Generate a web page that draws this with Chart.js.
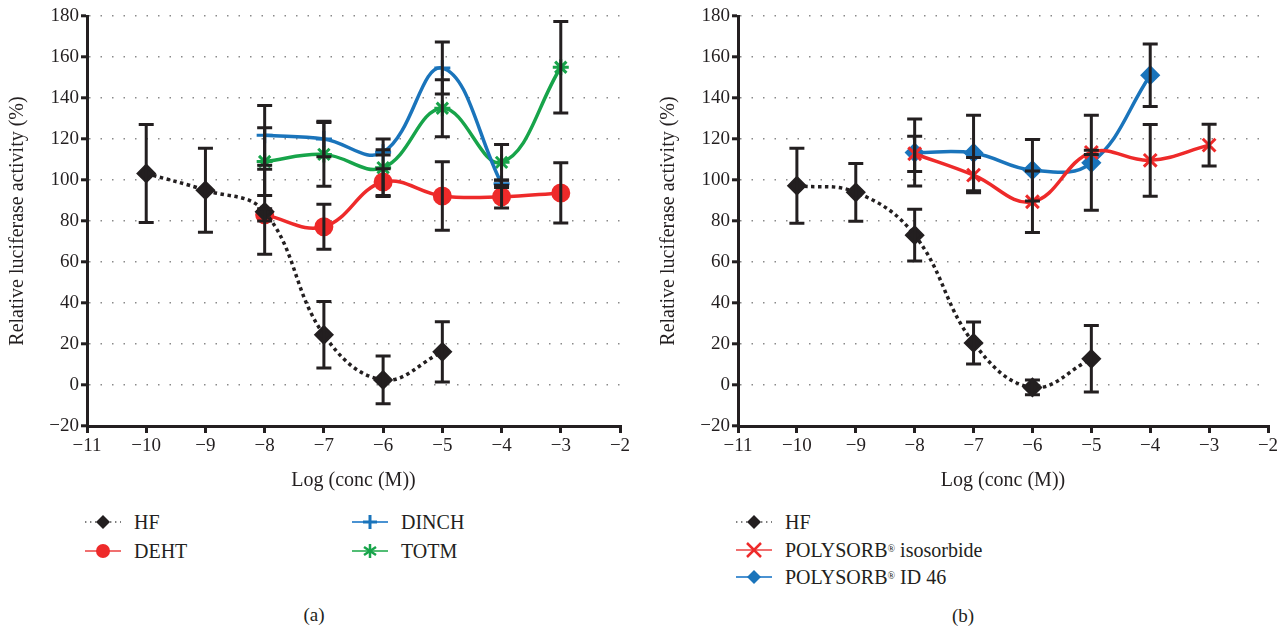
<!DOCTYPE html>
<html><head><meta charset="utf-8">
<script src="https://cdn.jsdelivr.net/npm/chart.js@4.4.0/dist/chart.umd.min.js"></script>
<style>
body{margin:0;background:#fff;width:1288px;height:633px;overflow:hidden;position:relative;font-family:"Liberation Serif",serif;color:#231f20}
.wrap{position:absolute;top:0;height:496px}
#wa{left:0;width:640px}
#wb{left:648px;width:640px}
.item{position:absolute;display:flex;align-items:center;white-space:nowrap;font-size:20px;height:24px;transform:translateY(-50%)}
.item svg{margin-right:13px}
.cap{position:absolute;font-size:19px;transform:translate(-50%,-50%)}
</style>
</head><body>
<div class="wrap" id="wa"><canvas id="ca"></canvas></div>
<div class="wrap" id="wb"><canvas id="cb"></canvas></div>

<div class="item" style="left:85px;top:522px"><svg width="36" height="18"><line x1="0" y1="9" x2="36" y2="9" stroke="#555" stroke-width="1.4" stroke-dasharray="1.4 3.6"/><polygon points="18,2 25,9 18,16 11,9" fill="#231f20"/></svg>HF</div>
<div class="item" style="left:85px;top:551px"><svg width="36" height="18"><line x1="0" y1="9" x2="36" y2="9" stroke="#f07070" stroke-width="2"/><circle cx="18" cy="9" r="7" fill="#ee2a2a"/></svg>DEHT</div>
<div class="item" style="left:352px;top:522px"><svg width="36" height="18"><line x1="0" y1="9" x2="36" y2="9" stroke="#4a92d2" stroke-width="2"/><line x1="18" y1="2" x2="18" y2="16" stroke="#1a74bb" stroke-width="3"/><line x1="11" y1="9" x2="25" y2="9" stroke="#1a74bb" stroke-width="3"/></svg>DINCH</div>
<div class="item" style="left:352px;top:551px"><svg width="36" height="18"><line x1="0" y1="9" x2="36" y2="9" stroke="#52bd74" stroke-width="2"/><g stroke="#17a44a" stroke-width="2.5"><line x1="18" y1="2" x2="18" y2="16"/><line x1="12" y1="5" x2="24" y2="13"/><line x1="12" y1="13" x2="24" y2="5"/></g></svg>TOTM</div>
<div class="cap" style="left:314px;top:615px">(a)</div>

<div class="item" style="left:736px;top:522px"><svg width="36" height="18"><line x1="0" y1="9" x2="36" y2="9" stroke="#555" stroke-width="1.4" stroke-dasharray="1.4 3.6"/><polygon points="18,2 25,9 18,16 11,9" fill="#231f20"/></svg>HF</div>
<div class="item" style="left:736px;top:550px"><svg width="36" height="18"><line x1="0" y1="9" x2="36" y2="9" stroke="#f07070" stroke-width="2"/><g stroke="#ee2a2a" stroke-width="2.5"><line x1="11" y1="2" x2="25" y2="16"/><line x1="11" y1="16" x2="25" y2="2"/></g></svg>POLYSORB<sup style="font-size:10px;position:relative;top:-2px">®</sup>&nbsp;isosorbide</div>
<div class="item" style="left:736px;top:577px"><svg width="36" height="18"><line x1="0" y1="9" x2="36" y2="9" stroke="#4a92d2" stroke-width="2"/><polygon points="18,2 25,9 18,16 11,9" fill="#1a74bb"/></svg>POLYSORB<sup style="font-size:10px;position:relative;top:-2px">®</sup>&nbsp;ID 46</div>
<div class="cap" style="left:963px;top:616px">(b)</div>

<script>
// ---------- Panel (a) data ----------
const xHF_A   = [-10, -9, -8, -7, -6, -5];
const hfA     = [103.2, 95, 84.5, 24.5, 2.5, 16.2];
const hfA_err = [23.9, 20.5, 20.7, 16.2, 11.6, 14.7];

const xDEHT   = [-8, -7, -6, -5, -4, -3];
const deht    = [83, 77.2, 99, 92.2, 91.8, 93.7];
const deht_err= [3, 11, 6.5, 16.7, 5.5, 14.7];

const xDINCH  = [-8, -7, -6, -5, -4];
const dinch   = [121.8, 120, 113.5, 154.6, 98.2];
const dinch_err=[14.6, 8.7, 1.3, 12.7, 1.8];

const xTOTM   = [-8, -7, -6, -5, -4, -3];
const totm    = [109, 112.5, 106, 135, 108.6, 155];
const totm_err= [16.5, 15.6, 14, 13.9, 8.7, 22.3];

// ---------- Panel (b) data ----------
const xHF_B   = [-10, -9, -8, -7, -6, -5];
const hfB     = [97.2, 94, 73.1, 20.5, -1.2, 12.8];
const hfB_err = [18.3, 14.1, 12.6, 10.2, 3.6, 16.2];

const xISO    = [-8, -7, -6, -5, -4, -3];
const iso     = [112.8, 102.4, 89.4, 113.5, 109.6, 117];
const iso_err = [8.6, 8.6, 15, 1, 17.5, 10.2];

const xID46   = [-8, -7, -6, -5, -4];
const id46    = [113.4, 113.2, 104.8, 108.4, 151.1];
const id46_err= [16.3, 18.4, 15, 23.2, 15.3];

// ---------- Tick values ----------
const xTicks = [-11, -10, -9, -8, -7, -6, -5, -4, -3, -2];
const yTicks = [-20, 0, 20, 40, 60, 80, 100, 120, 140, 160, 180];

const INK = '#231f20', RED = '#ee2a2a', BLUE = '#1a74bb', GREEN = '#17a44a';
const FONT = "'Liberation Serif', 'Times New Roman', serif";
const pts = (xs, ys) => xs.map((x, i) => ({x, y: ys[i]}));
const minus = v => String(v).replace('-', '\u2212');

const errorBars = {
  id: 'errorBars',
  afterDatasetsDraw(chart) {
    const {ctx, scales: {x, y}} = chart;
    ctx.save();
    ctx.strokeStyle = INK; ctx.lineWidth = 3; ctx.lineCap = 'butt';
    chart.data.datasets.forEach(ds => {
      if (!ds.errors) return;
      ds.data.forEach((p, j) => {
        const e = ds.errors[j];
        const px = x.getPixelForValue(p.x);
        const yt = y.getPixelForValue(p.y + e), yb = y.getPixelForValue(p.y - e);
        ctx.beginPath();
        ctx.moveTo(px, yt); ctx.lineTo(px, yb);
        ctx.moveTo(px - 7.5, yt); ctx.lineTo(px + 7.5, yt);
        ctx.moveTo(px - 7.5, yb); ctx.lineTo(px + 7.5, yb);
        ctx.stroke();
      });
    });
    ctx.restore();
  }
};

function series(label, xs, ys, errs, color, style, radius, extra) {
  return Object.assign({
    label, data: pts(xs, ys), errors: errs,
    borderColor: color, backgroundColor: color,
    pointBorderColor: color, pointBackgroundColor: color,
    pointStyle: style, pointRadius: radius, pointBorderWidth: 3,
    borderWidth: 3.5, tension: 0.4, fill: false
  }, extra || {});
}

function makeOptions(yAxisWidth, titlePad) {
  return {
    responsive: true, maintainAspectRatio: false, animation: false,
    layout: {padding: {top: 16, right: 20, left: 0, bottom: 0}},
    plugins: {legend: {display: false}, tooltip: {enabled: false}},
    scales: {
      x: {
        type: 'linear', min: -11, max: -2,
        afterBuildTicks: s => { s.ticks = xTicks.map(v => ({value: v})); },
        afterFit: s => { s.height = 70; },
        border: {display: true, color: INK, width: 3},
        grid: {display: true, drawOnChartArea: false, drawTicks: true, tickLength: 7, color: INK, lineWidth: 3},
        ticks: {color: INK, font: {family: FONT, size: 19}, padding: 2, autoSkip: false, maxRotation: 0,
                callback: v => minus(v)},
        title: {display: true, text: 'Log (conc (M))', color: INK, font: {family: FONT, size: 20}, padding: {top: 4, bottom: 3}}
      },
      y: {
        type: 'linear', min: -20, max: 180,
        afterBuildTicks: s => { s.ticks = yTicks.map(v => ({value: v})); },
        afterFit: s => { s.width = yAxisWidth; },
        border: {display: true, color: INK, width: 3, dash: [1.5, 10]},
        grid: {display: true, drawOnChartArea: true, drawTicks: true, tickLength: 6, color: '#8a8a8a', lineWidth: 1.6,
               tickColor: INK, tickWidth: 3, tickBorderDash: []},
        ticks: {color: INK, font: {family: FONT, size: 19}, padding: 2, autoSkip: false,
                callback: v => minus(v)},
        title: {display: true, text: 'Relative luciferase activity (%)', color: INK, font: {family: FONT, size: 20}, padding: {top: titlePad, bottom: 0}}
      }
    }
  };
}

new Chart(document.getElementById('ca'), {
  type: 'line',
  data: {datasets: [
    series('HF', xHF_A, hfA, hfA_err, INK, 'rectRot', 8, {borderDash: [3.5, 3.5]}),
    series('DEHT', xDEHT, deht, deht_err, RED, 'circle', 8),
    series('DINCH', xDINCH, dinch, dinch_err, BLUE, 'cross', 8),
    series('TOTM', xTOTM, totm, totm_err, GREEN, 'star', 8)
  ]},
  options: makeOptions(87, 6),
  plugins: [errorBars]
});

new Chart(document.getElementById('cb'), {
  type: 'line',
  data: {datasets: [
    series('HF', xHF_B, hfB, hfB_err, INK, 'rectRot', 8, {borderDash: [3.5, 3.5]}),
    series('POLYSORB® isosorbide', xISO, iso, iso_err, RED, 'crossRot', 9),
    series('POLYSORB® ID 46', xID46, id46, id46_err, BLUE, 'rectRot', 8)
  ]},
  options: makeOptions(90, 9),
  plugins: [errorBars]
});
</script>
</body></html>
